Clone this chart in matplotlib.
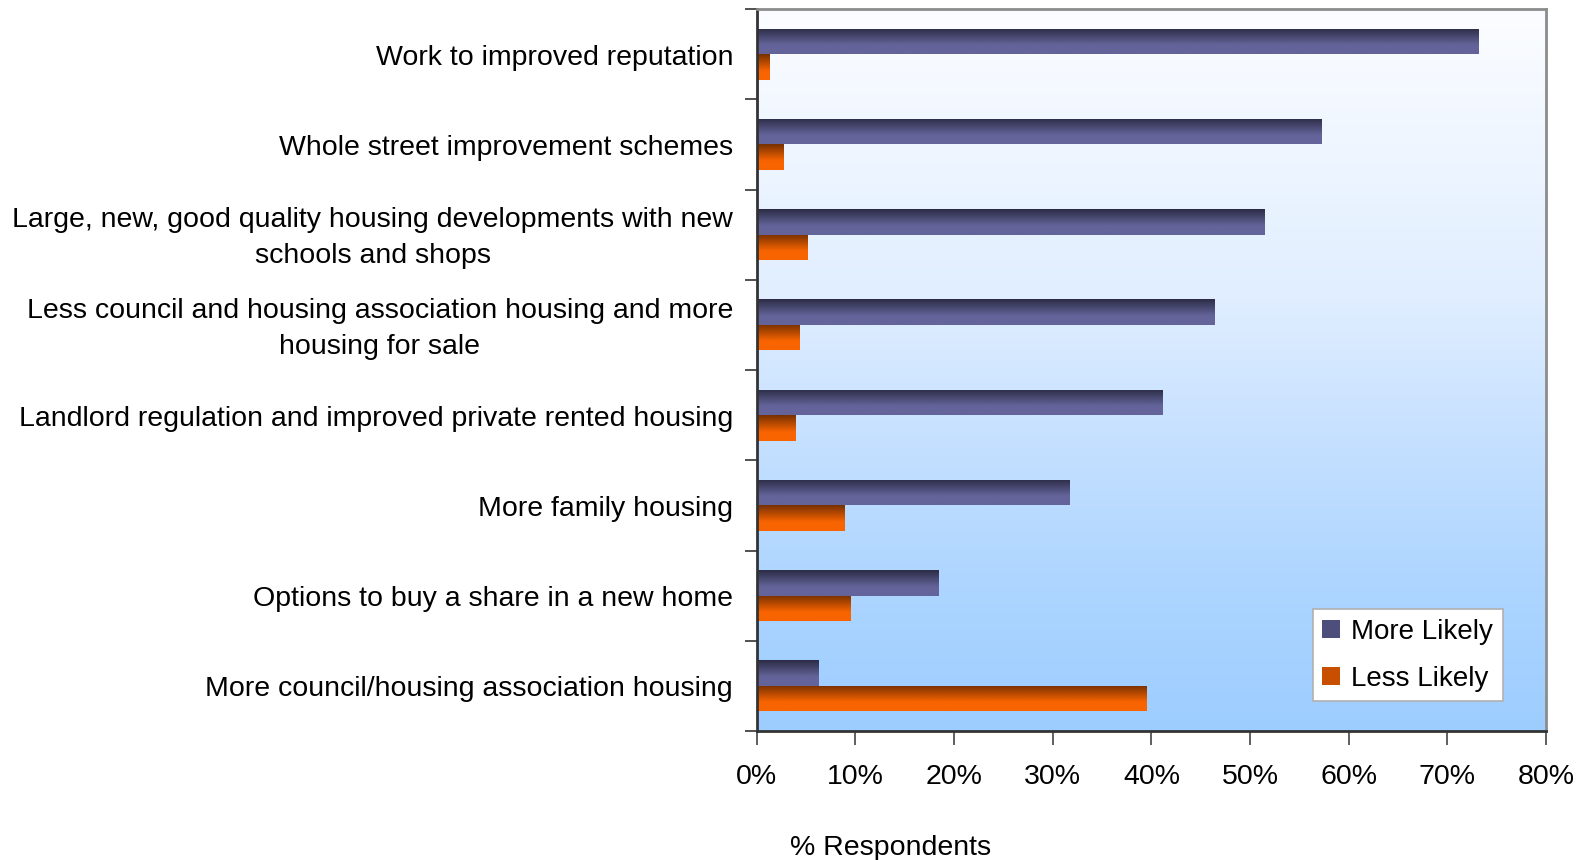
import matplotlib
matplotlib.use("Agg")
import matplotlib.pyplot as plt
import matplotlib.ticker as mticker
import numpy as np
from matplotlib.colors import LinearSegmentedColormap
from matplotlib.patches import Patch

plt.rcParams["font.family"] = ["Liberation Sans", "DejaVu Sans"]

categories = [
    "Work to improved reputation",
    "Whole street improvement schemes",
    "Large, new, good quality housing developments with new\nschools and shops",
    "Less council and housing association housing and more\nhousing for sale",
    "Landlord regulation and improved private rented housing",
    "More family housing",
    "Options to buy a share in a new home",
    "More council/housing association housing",
]
more_likely = [73.1, 57.2, 51.4, 46.4, 41.1, 31.7, 18.4, 6.2]
less_likely = [1.3, 2.7, 5.1, 4.3, 3.9, 8.9, 9.5, 39.5]
series_names = ["More Likely", "Less Likely"]
x_ticks = [0, 10, 20, 30, 40, 50, 60, 70, 80]

MORE_CMAP = LinearSegmentedColormap.from_list("more", ["#2c2c46", "#64649b"])
LESS_CMAP = LinearSegmentedColormap.from_list("less", ["#773000", "#f86400"])
BG_CMAP = LinearSegmentedColormap.from_list(
    "bg",
    [(0.0, "#fcfdff"), (0.4, "#e0eeff"), (0.6, "#c5e0ff"), (0.8, "#add5ff"), (1.0, "#9dcdff")],
)

fig = plt.figure(figsize=(15.83, 8.6), dpi=100)
ax = fig.add_axes([0.478, 0.15, 0.4987, 0.8395])

n = len(categories)
centers = np.arange(n)[::-1].astype(float)
h = 0.283

ax.set_xlim(0, 80)
ax.set_ylim(-0.5, n - 0.5)

# background gradient, near white at top to light blue at bottom
bg = np.linspace(0, 1, 256).reshape(-1, 1)
ax.imshow(bg, extent=[0, 1, 0, 1], transform=ax.transAxes, cmap=BG_CMAP,
          aspect="auto", zorder=0)

# gradient fill for each bar: dark at top, flattening towards the bottom
grad = np.clip(np.linspace(0, 1, 100) / 0.65, 0, 1).reshape(-1, 1)


def gradient_bars(values, ys, cmap):
    bars = ax.barh(ys, values, height=h, facecolor="none", edgecolor="none", zorder=2)
    for rect in bars:
        x0, y0 = rect.get_x(), rect.get_y()
        w, hh = rect.get_width(), rect.get_height()
        im = ax.imshow(grad, extent=[x0, x0 + w, y0, y0 + hh], cmap=cmap,
                       aspect="auto", zorder=2, vmin=0, vmax=1)
        im.set_clip_path(rect)
    return bars


gradient_bars(more_likely, centers + h / 2, MORE_CMAP)
gradient_bars(less_likely, centers - h / 2, LESS_CMAP)

ax.set_xlim(0, 80)
ax.set_ylim(-0.5, n - 0.5)
ax.set_aspect("auto")

# axes styling; labels sit a touch below the category centre like the original
ax.set_yticks(centers - 0.04)
ax.set_yticklabels(categories, fontsize=20.5, multialignment="center",
                   linespacing=1.5, va="center")
ax.yaxis.set_minor_locator(mticker.FixedLocator(np.arange(n + 1) - 0.5))
ax.tick_params(axis="y", which="major", length=0, pad=17)
ax.tick_params(axis="y", which="minor", length=9, width=1.2, color="#333333", direction="out")

ax.set_xticks(x_ticks)
ax.xaxis.set_major_formatter(mticker.FormatStrFormatter("%d%%"))
ax.tick_params(axis="x", length=10, width=1.2, color="#444444", labelsize=20.5, pad=14)

for side in ("left", "bottom"):
    ax.spines[side].set_color("#333333")
    ax.spines[side].set_linewidth(2)
for side in ("top", "right"):
    ax.spines[side].set_color("#8c8c8c")
    ax.spines[side].set_linewidth(2)

ax.set_xlabel("% Respondents", fontsize=20.5)
ax.xaxis.set_label_coords(0.169, -0.144)

legend_handles = [
    Patch(facecolor="#4e4e7c", label=series_names[0]),
    Patch(facecolor="#c94f00", label=series_names[1]),
]
leg = ax.legend(handles=legend_handles, loc="lower right", bbox_to_anchor=(0.9455, 0.041),
                fontsize=20, frameon=True, fancybox=False, handlelength=0.65,
                handleheight=0.65, handletextpad=0.4, borderpad=0.35, labelspacing=0.75,
                borderaxespad=0)
leg.get_frame().set_edgecolor("#b0b0b0")
leg.get_frame().set_linewidth(1.2)
leg.get_frame().set_facecolor("white")
leg.get_frame().set_alpha(1)

fig.savefig("out.png", dpi=100)
